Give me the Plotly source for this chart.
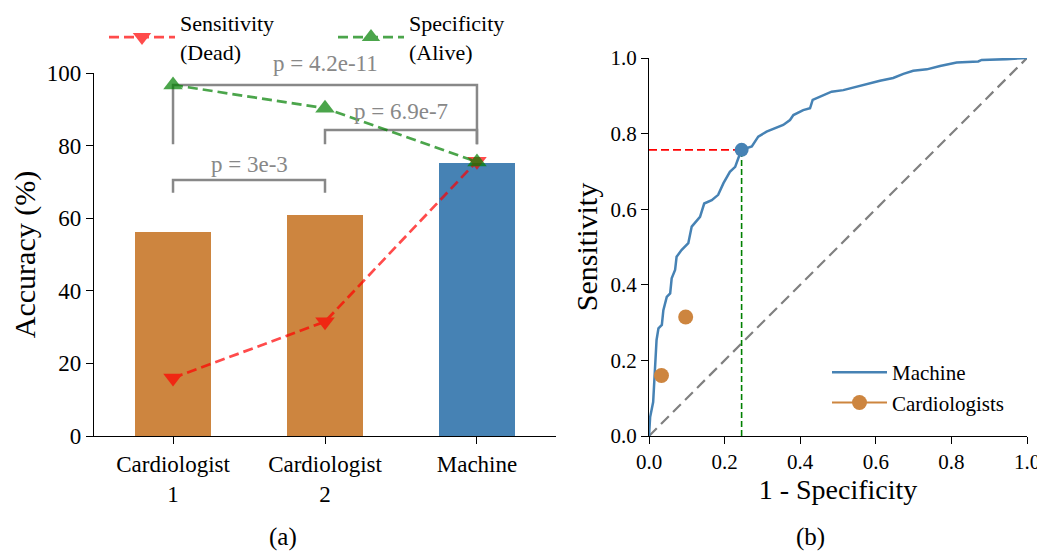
import plotly.graph_objects as go

# ---------------- data ----------------
categories = ["Cardiologist<br>1", "Cardiologist<br>2", "Machine"]
accuracy = [56.1, 60.9, 75.2]
sensitivity = [16.0, 31.5, 75.7]
specificity = [96.7, 90.3, 75.5]
bar_colors = ["#CD853F", "#CD853F", "#4682B4"]

p_pairs = [(0, 1), (1, 2), (0, 2)]
p_labels = ["p = 3e-3", "p = 6.9e-7", "p = 4.2e-11"]
p_bottom = [67.0, 80.4, 80.4]
p_top = [70.5, 84.3, 96.7]
p_text_y = [74.7, 89.3, 102.5]

roc_fpr = [0.0, 0.003, 0.011, 0.016, 0.020, 0.025, 0.034, 0.038, 0.047, 0.056, 0.060,
           0.069, 0.073, 0.086, 0.104, 0.113, 0.135, 0.146, 0.166, 0.183, 0.197,
           0.214, 0.228, 0.236, 0.245, 0.272, 0.289, 0.311, 0.333, 0.355, 0.373,
           0.382, 0.408, 0.426, 0.433, 0.461, 0.483, 0.514, 0.549, 0.585, 0.611,
           0.646, 0.673, 0.699, 0.735, 0.770, 0.814, 0.871, 0.880, 0.946, 1.0]
roc_tpr = [0.0, 0.05, 0.09, 0.19, 0.254, 0.285, 0.294, 0.333, 0.368, 0.377, 0.417,
           0.439, 0.474, 0.492, 0.51, 0.554, 0.58, 0.615, 0.624, 0.638, 0.669,
           0.699, 0.712, 0.734, 0.757, 0.766, 0.792, 0.805, 0.814, 0.823, 0.836,
           0.849, 0.862, 0.867, 0.889, 0.902, 0.911, 0.915, 0.924, 0.934, 0.94,
           0.947, 0.958, 0.966, 0.97, 0.979, 0.988, 0.991, 0.995, 0.997, 1.0]

FONT = "Liberation Serif"
OFF = 8                      # page body margin of the browser
W, H = 1045 - OFF, 555 - OFF
ML, MR, MT, MB = 94 - OFF, 18, 58 - OFF, 555 - 436
PW, PH = W - ML - MR, H - MT - MB


def px_x(p):
    return (p - OFF - ML) / PW


def px_y(p):
    return (H - MB - (p - OFF)) / PH


fig = go.Figure()

# ---------------- panel (a) ----------------
xs = list(range(len(categories)))
fig.add_trace(go.Bar(x=xs, y=accuracy, width=0.5,
                     marker=dict(color=bar_colors, line=dict(width=0)),
                     showlegend=False, xaxis="x", yaxis="y"))

for (a, b), lo, hi in zip(p_pairs, p_bottom, p_top):
    fig.add_trace(go.Scatter(x=[a, a, b, b], y=[lo, hi, hi, lo], mode="lines",
                             line=dict(color="#888888", width=2.5),
                             showlegend=False, hoverinfo="skip", cliponaxis=False,
                             xaxis="x", yaxis="y"))
for (a, b), lab, ty in zip(p_pairs, p_labels, p_text_y):
    fig.add_annotation(x=(a + b) / 2, y=ty / 100, xref="x", yref="y domain", text=lab,
                       xanchor="center", yanchor="middle", showarrow=False,
                       font=dict(family=FONT, size=23, color="#888888"))

fig.add_trace(go.Scatter(x=xs, y=sensitivity, mode="lines+markers",
                         name="Sensitivity<br>(Dead)", opacity=0.7,
                         line=dict(color="red", width=2.7, dash="10px,5px"),
                         marker=dict(symbol="triangle-down", size=17, color="red"),
                         cliponaxis=False, legend="legend", xaxis="x", yaxis="y"))
fig.add_trace(go.Scatter(x=xs, y=specificity, mode="lines+markers",
                         name="Specificity<br>(Alive)", opacity=0.7,
                         line=dict(color="green", width=2.7, dash="10px,5px"),
                         marker=dict(symbol="triangle-up", size=17, color="green"),
                         cliponaxis=False, legend="legend", xaxis="x", yaxis="y"))

# ---------------- panel (b) ----------------
m_fpr = 1 - specificity[2] / 100
m_tpr = sensitivity[2] / 100
fig.add_trace(go.Scatter(x=[0, 1], y=[0, 1], mode="lines",
                         line=dict(color="gray", width=2.2, dash="11px,6px"),
                         showlegend=False, hoverinfo="skip", xaxis="x2", yaxis="y2"))
fig.add_trace(go.Scatter(x=[0, m_fpr], y=[m_tpr, m_tpr], mode="lines",
                         line=dict(color="red", width=1.6, dash="8px,4px"),
                         showlegend=False, cliponaxis=False, xaxis="x2", yaxis="y2"))
fig.add_trace(go.Scatter(x=[m_fpr, m_fpr], y=[0, m_tpr], mode="lines",
                         line=dict(color="green", width=1.6, dash="6px,3px"),
                         showlegend=False, cliponaxis=False, xaxis="x2", yaxis="y2"))
fig.add_trace(go.Scatter(x=roc_fpr, y=roc_tpr, mode="lines", name="Machine",
                         line=dict(color="#4682B4", width=2.5),
                         cliponaxis=False, legend="legend2", xaxis="x2", yaxis="y2"))
fig.add_trace(go.Scatter(x=[m_fpr], y=[m_tpr], mode="markers",
                         marker=dict(color="#4682B4", size=14),
                         showlegend=False, cliponaxis=False, xaxis="x2", yaxis="y2"))
card_fpr = [1 - s / 100 for s in specificity[:2]]
card_tpr = [s / 100 for s in sensitivity[:2]]
fig.add_trace(go.Scatter(x=card_fpr, y=card_tpr, mode="markers",
                         marker=dict(color="#CD853F", size=15),
                         showlegend=False, cliponaxis=False, xaxis="x2", yaxis="y2"))
fig.add_trace(go.Scatter(x=[None], y=[None], mode="lines+markers", name="Cardiologists",
                         line=dict(color="#CD853F", width=2),
                         marker=dict(color="#CD853F", size=15),
                         legend="legend2", xaxis="x2", yaxis="y2"))

# ---------------- layout ----------------
axis_common = dict(showline=True, linecolor="black", linewidth=1.3, ticks="outside",
                   ticklen=7, tickwidth=1.3, tickcolor="black", showgrid=False,
                   zeroline=False, mirror=False, automargin=False)

fig.update_layout(
    width=W, height=H, margin=dict(l=ML, r=MR, t=MT, b=MB, autoexpand=False),
    paper_bgcolor="white", plot_bgcolor="white",
    font=dict(family=FONT, color="black"),
    xaxis=dict(domain=[0, px_x(556)], range=[-0.52, 2.52],
               tickvals=xs, ticktext=categories, anchor="y",
               tickfont=dict(family=FONT, size=23), **axis_common),
    yaxis=dict(domain=[0, px_y(73)], range=[0, 100], dtick=20, anchor="x",
               tickfont=dict(family=FONT, size=23),
               title=dict(text="Accuracy (%)", font=dict(family=FONT, size=30), standoff=6),
               **axis_common),
    xaxis2=dict(domain=[px_x(649), 1], range=[0, 1], dtick=0.2, tickformat=".1f",
                anchor="y2", tickfont=dict(family=FONT, size=21),
                title=dict(text="1 - Specificity", font=dict(family=FONT, size=28), standoff=6),
                **axis_common),
    yaxis2=dict(domain=[0, 1], range=[0, 1], dtick=0.2, tickformat=".1f",
                anchor="x2", tickfont=dict(family=FONT, size=21),
                title=dict(text="Sensitivity", font=dict(family=FONT, size=30), standoff=3),
                **axis_common),
    legend=dict(orientation="h", x=px_x(104), y=px_y(2), xanchor="left", yanchor="top",
                font=dict(family=FONT, size=22), bgcolor="rgba(0,0,0,0)",
                entrywidth=148, entrywidthmode="pixels", itemwidth=66),
    legend2=dict(x=px_x(827), y=px_y(352), xanchor="left", yanchor="top",
                 font=dict(family=FONT, size=21), bgcolor="rgba(0,0,0,0)", itemwidth=55,
                 tracegroupgap=2),
    bargap=0,
)

fig.add_annotation(x=px_x(283), y=px_y(537), xref="paper", yref="paper", text="(a)",
                   xanchor="center", yanchor="middle", showarrow=False,
                   font=dict(family=FONT, size=25))
fig.add_annotation(x=px_x(810), y=px_y(537), xref="paper", yref="paper", text="(b)",
                   xanchor="center", yanchor="middle", showarrow=False,
                   font=dict(family=FONT, size=25))

fig.write_html("out.html")
